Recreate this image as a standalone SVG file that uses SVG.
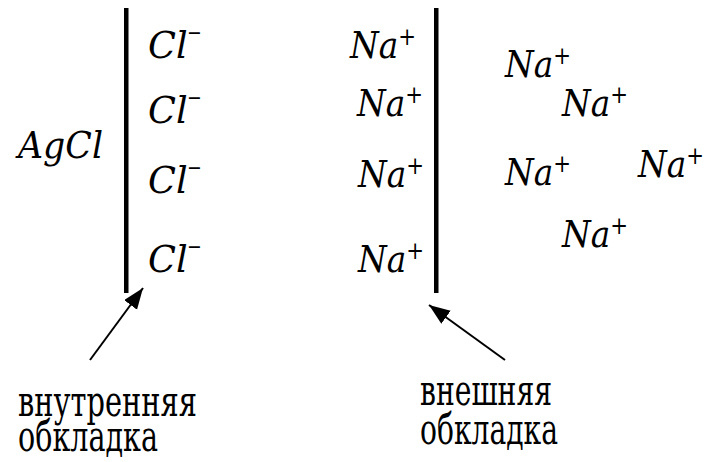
<svg xmlns="http://www.w3.org/2000/svg" width="706" height="462" viewBox="0 0 706 462">
  <style>
    text { font-family: 'DejaVu Serif', serif; fill: #000; }
    .ion { font-style: italic; font-size: 37px; }
    .sup { font-style: normal; font-size: 24px; }
    .neg { font-style: normal; font-size: 27px; }
    .lbl { font-size: 42px; }
    .plate { fill: #000; }
    .arrow { stroke: #000; stroke-width: 2; fill: none; marker-end: url(#head); }
  </style>
  <defs>
    <marker id="head" markerUnits="userSpaceOnUse" markerWidth="24" markerHeight="18" refX="21" refY="8" orient="auto">
      <path d="M0,0 L21,8 L0,16 z" fill="#000"/>
    </marker>
  </defs>

  <!-- electrode surface and outer boundary of the double layer -->
  <g id="plates">
    <rect class="plate" x="124" y="8" width="4.5" height="285"/>
    <rect class="plate" x="434" y="8" width="4.5" height="285"/>
  </g>

  <g id="agcl">
    <text class="ion" x="18" y="158" textLength="85" lengthAdjust="spacingAndGlyphs">AgCl</text>
  </g>

  <!-- inner layer: chloride ions -->
  <g id="inner-ions">
    <text id="cl-1" class="ion" x="148" y="58" textLength="53" lengthAdjust="spacingAndGlyphs">Cl<tspan class="neg" dy="-17">–</tspan></text>
    <text id="cl-2" class="ion" x="148" y="123" textLength="53" lengthAdjust="spacingAndGlyphs">Cl<tspan class="neg" dy="-17">–</tspan></text>
    <text id="cl-3" class="ion" x="148" y="193" textLength="53" lengthAdjust="spacingAndGlyphs">Cl<tspan class="neg" dy="-17">–</tspan></text>
    <text id="cl-4" class="ion" x="148" y="272" textLength="53" lengthAdjust="spacingAndGlyphs">Cl<tspan class="neg" dy="-17">–</tspan></text>
  </g>

  <!-- outer layer: counter-ions at the boundary -->
  <g id="outer-ions">
    <text id="na-1" class="ion" x="350" y="58" textLength="66" lengthAdjust="spacingAndGlyphs">Na<tspan class="sup" dy="-13">+</tspan></text>
    <text id="na-2" class="ion" x="357" y="116" textLength="66" lengthAdjust="spacingAndGlyphs">Na<tspan class="sup" dy="-13">+</tspan></text>
    <text id="na-3" class="ion" x="358" y="187" textLength="66" lengthAdjust="spacingAndGlyphs">Na<tspan class="sup" dy="-13">+</tspan></text>
    <text id="na-4" class="ion" x="358" y="272" textLength="66" lengthAdjust="spacingAndGlyphs">Na<tspan class="sup" dy="-13">+</tspan></text>
  </g>

  <!-- diffuse part: free counter-ions -->
  <g id="diffuse-ions">
    <text id="na-5" class="ion" x="505" y="77" textLength="66" lengthAdjust="spacingAndGlyphs">Na<tspan class="sup" dy="-13">+</tspan></text>
    <text id="na-6" class="ion" x="562" y="116" textLength="66" lengthAdjust="spacingAndGlyphs">Na<tspan class="sup" dy="-13">+</tspan></text>
    <text id="na-7" class="ion" x="505" y="185" textLength="66" lengthAdjust="spacingAndGlyphs">Na<tspan class="sup" dy="-13">+</tspan></text>
    <text id="na-8" class="ion" x="638" y="177" textLength="66" lengthAdjust="spacingAndGlyphs">Na<tspan class="sup" dy="-13">+</tspan></text>
    <text id="na-9" class="ion" x="562" y="247" textLength="66" lengthAdjust="spacingAndGlyphs">Na<tspan class="sup" dy="-13">+</tspan></text>
  </g>

  <g id="connectors">
    <line class="arrow" x1="90" y1="360" x2="143" y2="288"/>
    <line class="arrow" x1="505" y1="360" x2="429" y2="305"/>
  </g>

  <g id="label-inner">
    <text class="lbl" x="18" y="416" textLength="179" lengthAdjust="spacingAndGlyphs">внутренняя</text>
    <text class="lbl" x="18" y="451" textLength="140" lengthAdjust="spacingAndGlyphs">обкладка</text>
  </g>
  <g id="label-outer">
    <text class="lbl" x="420" y="405" textLength="132" lengthAdjust="spacingAndGlyphs">внешняя</text>
    <text class="lbl" x="420" y="444" textLength="138" lengthAdjust="spacingAndGlyphs">обкладка</text>
  </g>
</svg>
